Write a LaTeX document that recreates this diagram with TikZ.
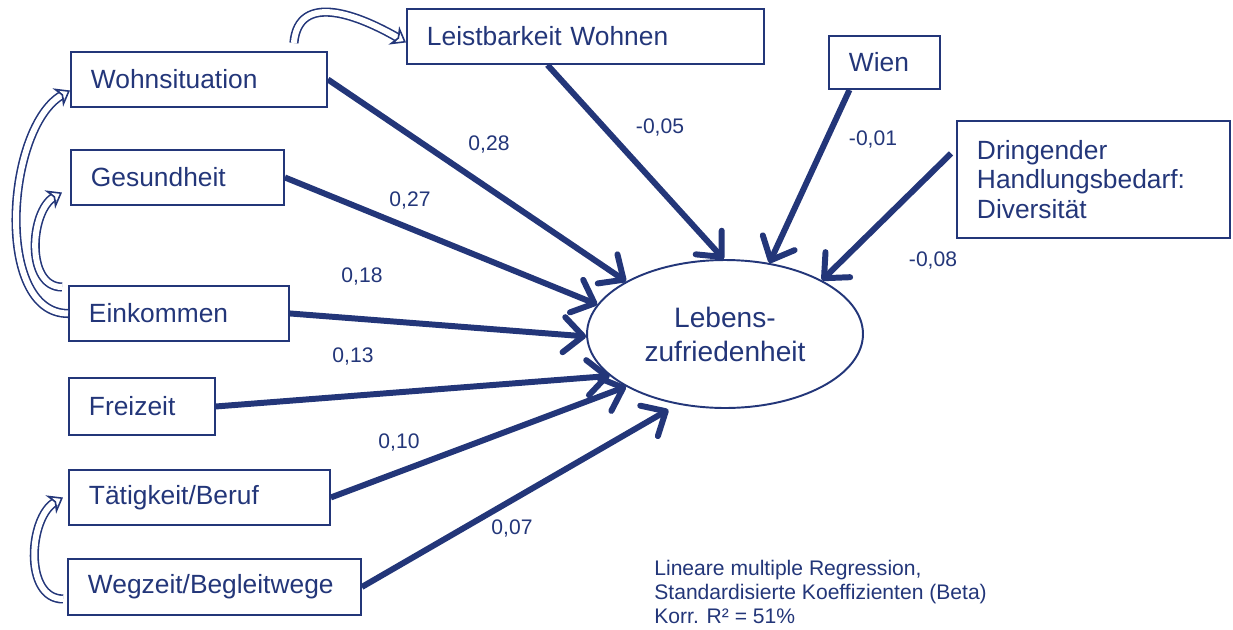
\documentclass[tikz,border=0pt]{standalone}
\usepackage{fontspec}
\setmainfont{Liberation Sans}
\usepackage{tikz}
\usetikzlibrary{arrows.meta,shapes.geometric}
\definecolor{navy}{RGB}{35,54,121}
\tikzset{
  factor/.style={draw=navy, line width=1.1pt, text=navy, anchor=north west,
    font=\fontsize{15}{17}\selectfont, inner xsep=0.4cm, inner ysep=0pt,
    align=left, minimum height=1.1cm},
  beta/.style={text=navy, font=\fontsize{12}{14}\selectfont, inner sep=0pt},
  effect/.style={draw=navy, line width=3.4pt,
    -{Straight Barb[length=11pt, width=20pt, round]}},
  corr/.style={draw=navy, line width=0.9pt, double=white, double distance=3.4pt,
    -{Stealth[open, length=8pt, width=12pt, inset=2.5pt]}},
}
\begin{document}
\begin{tikzpicture}[x=0.02cm, y=-0.02cm]
  \useasboundingbox (0,0) rectangle (1233,629);
  % predictors on the left
  \node (wohn) [factor, text width=4.32cm] at (70,51)  {Wohnsituation};
  \node (ges)  [factor, text width=3.46cm] at (70,149) {Gesundheit};
  \node (ein)  [factor, text width=3.6cm]  at (68,285) {Einkommen};
  \node (frei) [factor, text width=2.12cm, minimum height=1.14cm] at (68,377) {Freizeit};
  \node (taet) [factor, text width=4.42cm] at (68,469) {Tätigkeit/Beruf};
  \node (weg)  [factor, text width=5.06cm, minimum height=1.12cm] at (67,558) {Wegzeit/Begleitwege};
  % predictors on top
  \node (leist) [factor, text width=6.34cm] at (406,8) {Leistbarkeit Wohnen};
  \node (wien)  [factor, text width=1.42cm, minimum height=1.06cm] at (828,35) {Wien};
  \node (dring) [factor, text width=4.66cm, minimum height=2.34cm,
    font=\fontsize{15}{16.7}\selectfont] at (956,120)
    {Dringender\\Handlungsbedarf:\\Diversität};
  % outcome
  \node (lz) [ellipse, draw=navy, line width=1.1pt, text=navy, inner sep=0pt,
    minimum width=5.52cm, minimum height=2.96cm, align=center,
    font=\fontsize{16}{19.3}\selectfont] at (725,334) {Lebens-\\zufriedenheit};

  % standardised effects
  \draw[effect] (wohn.east) -- (lz.152);
  \draw[effect] (ges.east) -- (lz.167);
  \draw[effect] (ein.east) -- (lz.181);
  \draw[effect] (frei.east) -- (lz.200);
  \draw[effect] (taet.east) -- (lz.208);
  \draw[effect, shorten >=6pt] (weg.east) -- (lz.236);
  \draw[effect] ([xshift=-0.76cm]leist.south) -- (lz.91);
  \draw[effect] ([xshift=-0.7cm]wien.south) -- (lz.58);
  \draw[effect] ([xshift=-0.1cm, yshift=0.52cm]dring.west) -- (lz.29);

  \node (b1) [beta] at (489,144) {0,28};
  \node (b2) [beta] at (410,200) {0,27};
  \node (b3) [beta] at (362,276) {0,18};
  \node (b4) [beta] at (353,356) {0,13};
  \node (b5) [beta] at (399,442) {0,10};
  \node (b6) [beta] at (512,528) {0,07};
  \node (b7) [beta] at (660,127) {-0,05};
  \node (b8) [beta] at (873,139) {-0,01};
  \node (b9) [beta] at (933,260) {-0,08};

  % correlations between predictors
  \draw[corr] ([xshift=-0.68cm, yshift=0.16cm]wohn.north east)
    to[out=85, in=150, looseness=1.2] ([yshift=-0.12cm]leist.west);
  \draw[corr] (ein.west) to[out=180, in=210, looseness=0.85]
    ([yshift=-0.22cm]wohn.west);
  \draw[corr] ([xshift=-0.12cm, yshift=-0.04cm]ein.north west)
    to[out=180, in=210] ([xshift=-0.16cm, yshift=-0.3cm]ges.west);
  \draw[corr] ([xshift=-0.08cm, yshift=-0.24cm]weg.west)
    to[out=180, in=210] ([xshift=-0.1cm]taet.west);

  % model note
  \node (note) [beta, anchor=west, align=left, font=\fontsize{12}{13.6}\selectfont]
    at (654,592) {Lineare multiple Regression,\\
    Standardisierte Koeffizienten (Beta)\\Korr. R² = 51\%};
\end{tikzpicture}
\end{document}
